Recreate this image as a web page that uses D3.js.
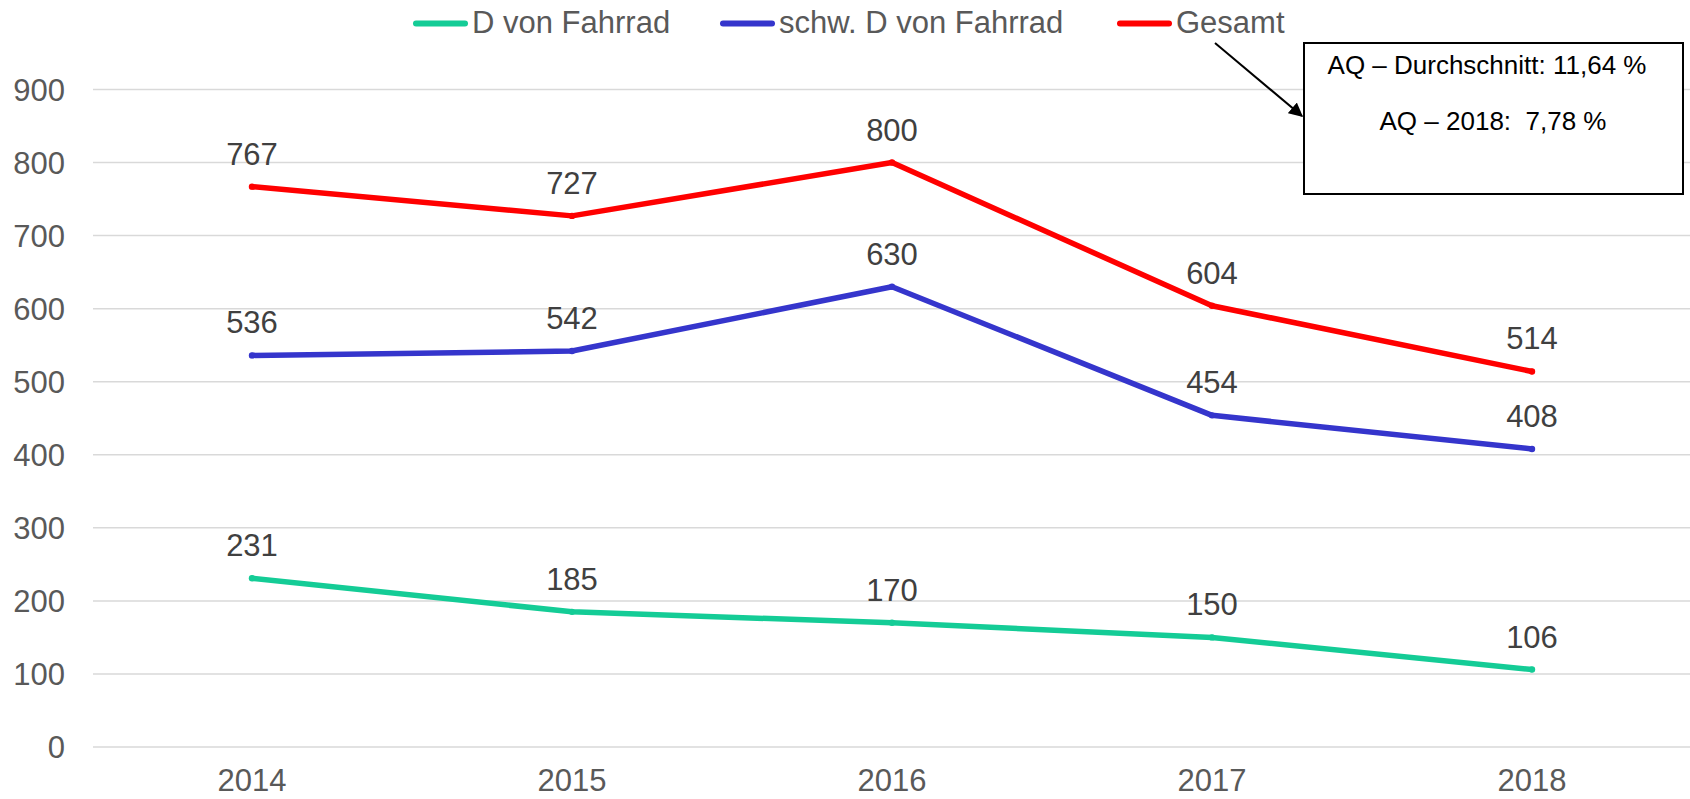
<!DOCTYPE html>
<html>
<head>
<meta charset="utf-8">
<script src="https://cdnjs.cloudflare.com/ajax/libs/d3/7.8.5/d3.min.js"></script>
<style>
  body { margin: 0; background: #fff; }
  text { font-family: "Liberation Sans", Arial, sans-serif; }
</style>
</head>
<body>
<div id="chart"></div>
<script>
// data
var years = ["2014", "2015", "2016", "2017", "2018"]
var seriesNames = ["D von Fahrrad", "schw. D von Fahrrad", "Gesamt"]
var valsD = [231, 185, 170, 150, 106]
var valsSchw = [536, 542, 630, 454, 408]
var valsGesamt = [767, 727, 800, 604, 514]
var yTicks = [0, 100, 200, 300, 400, 500, 600, 700, 800, 900]
var noteLines = ["AQ \u2013 Durchschnitt: 11,64 %", "AQ \u2013 2018:  7,78 %"]

var colors = ["#14cc96", "#3535cc", "#ff0000"]
var series = [valsD, valsSchw, valsGesamt]

var width = 1690, height = 799
var svg = d3.select("#chart").append("svg")
    .attr("width", width)
    .attr("height", height)

var x = d3.scaleBand().domain(years).range([92, 1692])
var y = d3.scaleLinear().domain([0, 900]).range([747, 89.5])

// grid
svg.append("g").selectAll("line")
  .data(yTicks)
  .enter().append("line")
  .attr("x1", 93).attr("x2", 1690)
  .attr("y1", function(d){ return y(d) }).attr("y2", function(d){ return y(d) })
  .attr("stroke", "#d9d9d9").attr("stroke-width", 1.5)

// y labels
svg.append("g").selectAll("text")
  .data(yTicks)
  .enter().append("text")
  .attr("x", 65)
  .attr("y", function(d){ return y(d) + 11 })
  .attr("text-anchor", "end")
  .attr("font-size", 31)
  .attr("fill", "#595959")
  .text(function(d){ return d })

// x labels
svg.append("g").selectAll("text")
  .data(years)
  .enter().append("text")
  .attr("x", function(d){ return x(d) + x.bandwidth() / 2 })
  .attr("y", 791)
  .attr("text-anchor", "middle")
  .attr("font-size", 31)
  .attr("fill", "#595959")
  .text(function(d){ return d })

var line = d3.line()
  .x(function(d, i){ return x(years[i]) + x.bandwidth() / 2 })
  .y(function(d){ return y(d) })

series.forEach(function(vals, k){
  svg.append("path")
    .attr("d", line(vals))
    .attr("fill", "none")
    .attr("stroke", colors[k])
    .attr("stroke-width", 5.5)
    .attr("stroke-linejoin", "round")
    .attr("stroke-linecap", "round")

  svg.append("g").selectAll("circle")
    .data(vals)
    .enter().append("circle")
    .attr("cx", function(d, i){ return x(years[i]) + x.bandwidth() / 2 })
    .attr("cy", function(d){ return y(d) })
    .attr("r", 3.2)
    .attr("fill", colors[k])

  svg.append("g").selectAll("text")
    .data(vals)
    .enter().append("text")
    .attr("x", function(d, i){ return x(years[i]) + x.bandwidth() / 2 })
    .attr("y", function(d){ return y(d) - 22 })
    .attr("text-anchor", "middle")
    .attr("font-size", 31)
    .attr("fill", "#404040")
    .text(function(d){ return d })
})

// legend
var legX = [413, 720, 1117]
var leg = svg.append("g")
seriesNames.forEach(function(name, k){
  leg.append("line")
    .attr("x1", legX[k] + 3).attr("x2", legX[k] + 52)
    .attr("y1", 23.5).attr("y2", 23.5)
    .attr("stroke", colors[k]).attr("stroke-width", 6)
    .attr("stroke-linecap", "round")
  leg.append("text")
    .attr("x", legX[k] + 59)
    .attr("y", 33)
    .attr("font-size", 31)
    .attr("fill", "#595959")
    .text(name)
})

// annotation box + arrow
svg.append("defs").append("marker")
  .attr("id", "arrow")
  .attr("viewBox", "0 0 10 10")
  .attr("refX", 9).attr("refY", 5)
  .attr("markerWidth", 7).attr("markerHeight", 7)
  .attr("orient", "auto")
  .append("path")
  .attr("d", "M0,0 L10,5 L0,10 z")
  .attr("fill", "#000")

svg.append("line")
  .attr("x1", 1215).attr("y1", 43)
  .attr("x2", 1302).attr("y2", 116)
  .attr("stroke", "#000").attr("stroke-width", 2)
  .attr("marker-end", "url(#arrow)")

svg.append("rect")
  .attr("x", 1304).attr("y", 43)
  .attr("width", 379).attr("height", 151)
  .attr("fill", "#fff")
  .attr("stroke", "#000").attr("stroke-width", 2)

svg.append("text")
  .attr("x", 1487).attr("y", 74)
  .attr("text-anchor", "middle")
  .attr("font-size", 26)
  .attr("fill", "#000")
  .text(noteLines[0])
svg.append("text")
  .attr("x", 1493).attr("y", 130)
  .attr("text-anchor", "middle")
  .attr("font-size", 26)
  .attr("fill", "#000")
  .attr("xml:space", "preserve")
  .style("white-space", "pre")
  .text(noteLines[1])
</script>
</body>
</html>
